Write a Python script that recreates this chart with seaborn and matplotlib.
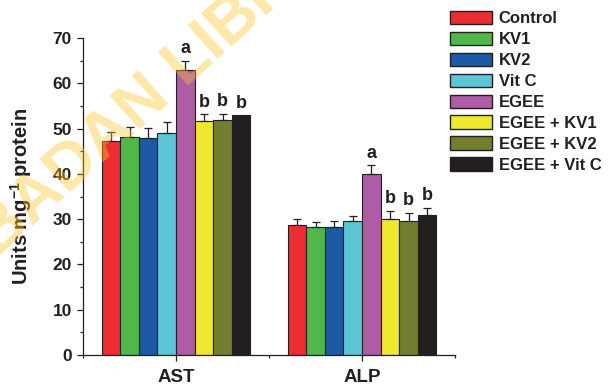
import numpy as np
import pandas as pd
import matplotlib
matplotlib.use("Agg")
import matplotlib.pyplot as plt
import seaborn as sns
from matplotlib.ticker import MultipleLocator, FixedLocator

# ---- data -------------------------------------------------------------
enzymes = ["AST", "ALP"]
groups = ["Control", "KV1", "KV2", "Vit C", "EGEE",
          "EGEE + KV1", "EGEE + KV2", "EGEE + Vit C"]
colors = ["#ee2d32", "#4fb848", "#1b5aa7", "#5bc6d6", "#ad5ca5",
          "#eee92e", "#737e31", "#231f20"]

ast_mean = [47.2, 48.1, 47.9, 49.0, 62.9, 51.7, 51.9, 52.9]
ast_err = [2.0, 2.3, 2.2, 2.4, 2.1, 1.5, 1.4, 0.0]
alp_mean = [28.7, 28.2, 28.2, 29.5, 39.9, 30.1, 29.7, 31.0]
alp_err = [1.4, 1.2, 1.5, 1.3, 2.0, 1.8, 1.7, 1.5]
ast_sig = ["", "", "", "", "a", "b", "b", "b"]
alp_sig = ["", "", "", "", "a", "b", "b", "b"]

y_ticks = [0, 10, 20, 30, 40, 50, 60, 70]

means = {"AST": ast_mean, "ALP": alp_mean}
errs = {"AST": ast_err, "ALP": alp_err}
sigs = {"AST": ast_sig, "ALP": alp_sig}

df = pd.DataFrame(
    [(e, g, means[e][i]) for e in enzymes for i, g in enumerate(groups)],
    columns=["enzyme", "group", "value"],
)

# ---- style ------------------------------------------------------------
sns.set_theme(style="ticks")
plt.rcParams["font.family"] = ["Liberation Sans", "DejaVu Sans"]
plt.rcParams["font.weight"] = "bold"
plt.rcParams["mathtext.fontset"] = "custom"
plt.rcParams["mathtext.rm"] = "Liberation Sans:bold"
plt.rcParams["mathtext.bf"] = "Liberation Sans:bold"
ink = "#231f20"

fig = plt.figure(figsize=(6.14, 3.89), dpi=100)
ax = fig.add_axes([0.1352, 0.0874, 0.6059, 0.8149])

sns.barplot(data=df, x="enzyme", y="value", hue="group",
            order=enzymes, hue_order=groups, palette=colors,
            errorbar=None, width=0.8, edgecolor=ink, linewidth=0.8,
            saturation=1, ax=ax)

# bars sorted left to right: AST groups first, then ALP groups
bars = sorted([p for p in ax.patches if p.get_height() > 0],
              key=lambda p: p.get_x())

# one-sided error bars and significance letters on top of each bar
for k, bar in enumerate(bars):
    e = enzymes[k // len(groups)]
    gi = k % len(groups)
    x = bar.get_x() + bar.get_width() / 2
    top = bar.get_height()
    err = errs[e][gi]
    if err > 0:
        ax.errorbar(x, top, yerr=[[0], [err]], fmt="none", ecolor=ink,
                    elinewidth=0.9, capsize=3.2, capthick=0.9, zorder=1)
    letter = sigs[e][gi]
    if letter:
        ax.annotate(letter, (x, top + err), xytext=(0, 2.5),
                    textcoords="offset points", ha="center", va="bottom",
                    fontsize=13, fontweight="bold", color=ink)

# ---- axes -------------------------------------------------------------
ax.set_xlim(-0.5, 1.5)
ax.set_ylim(0, 70)
ax.set_yticks(y_ticks)
ax.yaxis.set_minor_locator(MultipleLocator(5))
ax.xaxis.set_minor_locator(FixedLocator([-0.5, 0.5, 1.5]))
sns.despine(ax=ax)
for s in ("left", "bottom"):
    ax.spines[s].set_color(ink)
    ax.spines[s].set_linewidth(0.9)
ax.tick_params(axis="both", which="major", length=4, width=0.9,
               color=ink, labelcolor=ink, direction="out")
ax.tick_params(axis="both", which="minor", length=2.5, width=0.9,
               color=ink, direction="out")
ax.tick_params(axis="y", labelsize=12.5, pad=4)
ax.tick_params(axis="x", labelsize=13.5, pad=6)
for lab in ax.get_xticklabels() + ax.get_yticklabels():
    lab.set_fontweight("bold")
ax.set_xlabel("")
ax.set_ylabel(r"Units mg$^{\mathbf{-1}}$ protein", fontsize=14.5,
              fontweight="bold", color=ink)
ax.yaxis.set_label_coords(-0.132, 0.5)

# ---- legend -----------------------------------------------------------
handles, labels = ax.get_legend_handles_labels()
if ax.get_legend() is not None:
    ax.get_legend().remove()
leg = fig.legend(handles, labels, loc="upper left",
                 bbox_to_anchor=(0.733, 0.972), frameon=False,
                 fontsize=12, handlelength=2.5, handleheight=0.85,
                 handletextpad=0.42, labelspacing=0.33, borderpad=0,
                 borderaxespad=0)
for t in leg.get_texts():
    t.set_fontweight("bold")
    t.set_color(ink)
for h in leg.legend_handles:
    h.set_edgecolor(ink)
    h.set_linewidth(1.0)

# ---- library watermark ------------------------------------------------
fig.text(187 / 614, 1 - 64 / 389, "BADAN LIBRARY", rotation=42,
         rotation_mode="anchor", ha="center", va="center", fontsize=47,
         fontweight="bold", color="#fcc52a", alpha=0.4, zorder=20)

fig.savefig("out.png", dpi=100)
